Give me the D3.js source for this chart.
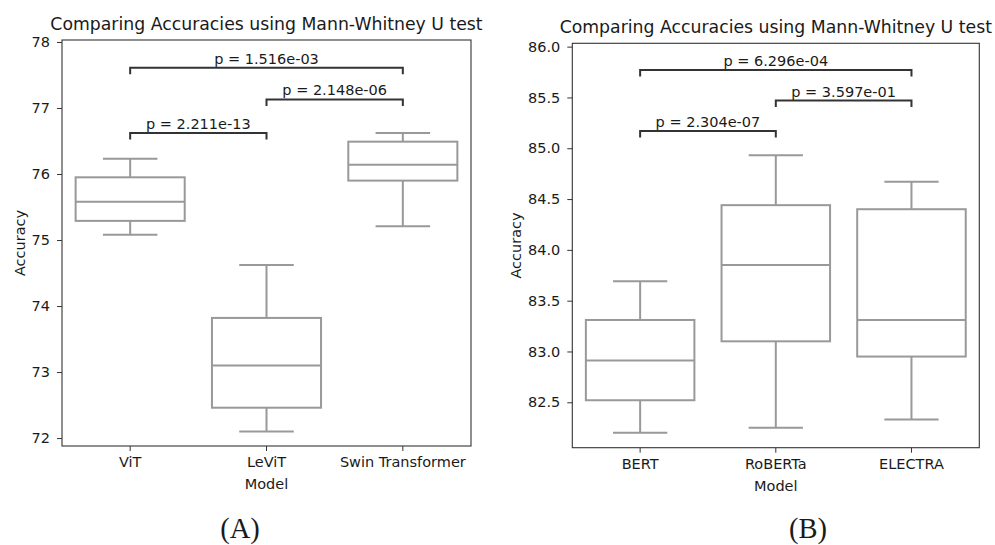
<!DOCTYPE html>
<html>
<head>
<meta charset="utf-8">
<title>Mann-Whitney comparison</title>
<script src="https://d3js.org/d3.v7.min.js"></script>
<style>
  body { margin: 0; background: #fff; }
  svg text { font-family: "DejaVu Sans", sans-serif; fill: #1a1a1a; }
  .frame { fill: none; stroke: #333; stroke-width: 1.1; }
  .tick line { stroke: #333; }
  .domain { display: none; }
  .box { fill: #fff; stroke: #999; stroke-width: 2; }
  .wh { stroke: #999; stroke-width: 2; }
  .br { fill: none; stroke: #333; stroke-width: 2; }
</style>
</head>
<body>
<svg id="chart" width="995" height="545"></svg>
<script>
// panel A
var modelsA = ["ViT", "LeViT", "Swin Transformer"];
var lowA = [75.08, 72.10, 75.21];
var q1A  = [75.29, 72.46, 75.90];
var medA = [75.58, 73.10, 76.14];
var q3A  = [75.95, 73.82, 76.49];
var highA = [76.23, 74.62, 76.62];
var ticksA = [72, 73, 74, 75, 76, 77, 78];
var pairsA = [[0, 1], [1, 2], [0, 2]];
var pLevelsA = [76.62, 77.13, 77.61];
var pTextA = ["p = 2.211e-13", "p = 2.148e-06", "p = 1.516e-03"];

// panel B
var modelsB = ["BERT", "RoBERTa", "ELECTRA"];
var lowB = [82.20, 82.25, 82.33];
var q1B  = [82.52, 83.10, 82.95];
var medB = [82.91, 83.85, 83.31];
var q3B  = [83.31, 84.44, 84.40];
var highB = [83.69, 84.93, 84.67];
var ticksB = [82.5, 83.0, 83.5, 84.0, 84.5, 85.0, 85.5, 86.0];
var pairsB = [[0, 1], [1, 2], [0, 2]];
var pLevelsB = [85.17, 85.47, 85.77];
var pTextB = ["p = 2.304e-07", "p = 3.597e-01", "p = 6.296e-04"];

var svg = d3.select("#chart");

function panel(opt) {
  var g = svg.append("g");
  var w = opt.right - opt.left, h = opt.bottom - opt.top;

  var x = d3.scaleBand().domain(opt.models).range([opt.left, opt.right]);
  var y = d3.scaleLinear().domain(opt.ydom).range([opt.bottom, opt.top]);
  var bw = x.bandwidth();
  var cx = function (i) { return x(opt.models[i]) + bw / 2; };

  var stats = opt.models.map(function (m, i) {
    return { i: i, lo: opt.low[i], q1: opt.q1[i], med: opt.med[i], q3: opt.q3[i], hi: opt.high[i] };
  });

  // whiskers + boxes
  var bx = g.selectAll(".bx").data(stats).enter().append("g");
  bx.append("line").attr("class", "wh")
    .attr("x1", function (d) { return cx(d.i); }).attr("x2", function (d) { return cx(d.i); })
    .attr("y1", function (d) { return y(d.hi); }).attr("y2", function (d) { return y(d.lo); });
  bx.append("line").attr("class", "wh")
    .attr("x1", function (d) { return cx(d.i) - bw * 0.2; }).attr("x2", function (d) { return cx(d.i) + bw * 0.2; })
    .attr("y1", function (d) { return y(d.hi); }).attr("y2", function (d) { return y(d.hi); });
  bx.append("line").attr("class", "wh")
    .attr("x1", function (d) { return cx(d.i) - bw * 0.2; }).attr("x2", function (d) { return cx(d.i) + bw * 0.2; })
    .attr("y1", function (d) { return y(d.lo); }).attr("y2", function (d) { return y(d.lo); });
  bx.append("rect").attr("class", "box")
    .attr("x", function (d) { return cx(d.i) - bw * 0.4; })
    .attr("width", bw * 0.8)
    .attr("y", function (d) { return y(d.q3); })
    .attr("height", function (d) { return y(d.q1) - y(d.q3); });
  bx.append("line").attr("class", "wh")
    .attr("x1", function (d) { return cx(d.i) - bw * 0.4; }).attr("x2", function (d) { return cx(d.i) + bw * 0.4; })
    .attr("y1", function (d) { return y(d.med); }).attr("y2", function (d) { return y(d.med); });

  // significance brackets
  opt.pairs.forEach(function (p, k) {
    var yy = y(opt.levels[k]);
    var x1 = cx(p[0]), x2 = cx(p[1]);
    g.append("path").attr("class", "br")
      .attr("d", "M" + x1 + "," + (yy + 6.5) + "V" + yy + "H" + x2 + "V" + (yy + 6.5));
    g.append("text").attr("x", (x1 + x2) / 2).attr("y", yy - 4)
      .attr("text-anchor", "middle").style("font-size", "14.5px").text(opt.ptext[k]);
  });

  // axes
  var ya = g.append("g").attr("transform", "translate(" + opt.left + ",0)")
    .call(d3.axisLeft(y).tickValues(opt.ticks).tickSize(5).tickPadding(7)
      .tickFormat(opt.fmt));
  ya.selectAll("text").style("font-size", "14.5px").attr("fill", "#1a1a1a");
  var xa = g.append("g").attr("transform", "translate(0," + opt.bottom + ")")
    .call(d3.axisBottom(x).tickSize(5).tickPadding(6));
  xa.selectAll("text").style("font-size", "14.5px").attr("fill", "#1a1a1a");

  g.append("rect").attr("class", "frame")
    .attr("x", opt.left).attr("y", opt.top).attr("width", w).attr("height", h);

  g.append("text").attr("x", (opt.left + opt.right) / 2).attr("y", opt.top - 10)
    .attr("text-anchor", "middle").style("font-size", "17.3px")
    .text("Comparing Accuracies using Mann-Whitney U test");
  g.append("text").attr("x", (opt.left + opt.right) / 2).attr("y", opt.bottom + 43)
    .attr("text-anchor", "middle").style("font-size", "14.5px").text("Model");
  g.append("text")
    .attr("transform", "translate(" + opt.ylabX + "," + (opt.top + opt.bottom) / 2 + ") rotate(-90)")
    .attr("text-anchor", "middle").style("font-size", "14.5px").text("Accuracy");
  g.append("text").attr("x", opt.capX).attr("y", 538)
    .attr("text-anchor", "middle")
    .style("font-family", "'Liberation Serif', serif").style("font-size", "28.5px")
    .text(opt.cap);
}

panel({
  models: modelsA, low: lowA, q1: q1A, med: medA, q3: q3A, high: highA,
  ticks: ticksA, pairs: pairsA, levels: pLevelsA, ptext: pTextA,
  ydom: [71.88, 78.03], fmt: d3.format("d"),
  left: 62, right: 471, top: 40, bottom: 446, ylabX: 25, capX: 240, cap: "(A)"
});

panel({
  models: modelsB, low: lowB, q1: q1B, med: medB, q3: q3B, high: highB,
  ticks: ticksB, pairs: pairsB, levels: pLevelsB, ptext: pTextB,
  ydom: [82.053, 86.033], fmt: d3.format(".1f"),
  left: 572.3, right: 979.3, top: 43.3, bottom: 447.7, ylabX: 520.5, capX: 808, cap: "(B)"
});
</script>
</body>
</html>
